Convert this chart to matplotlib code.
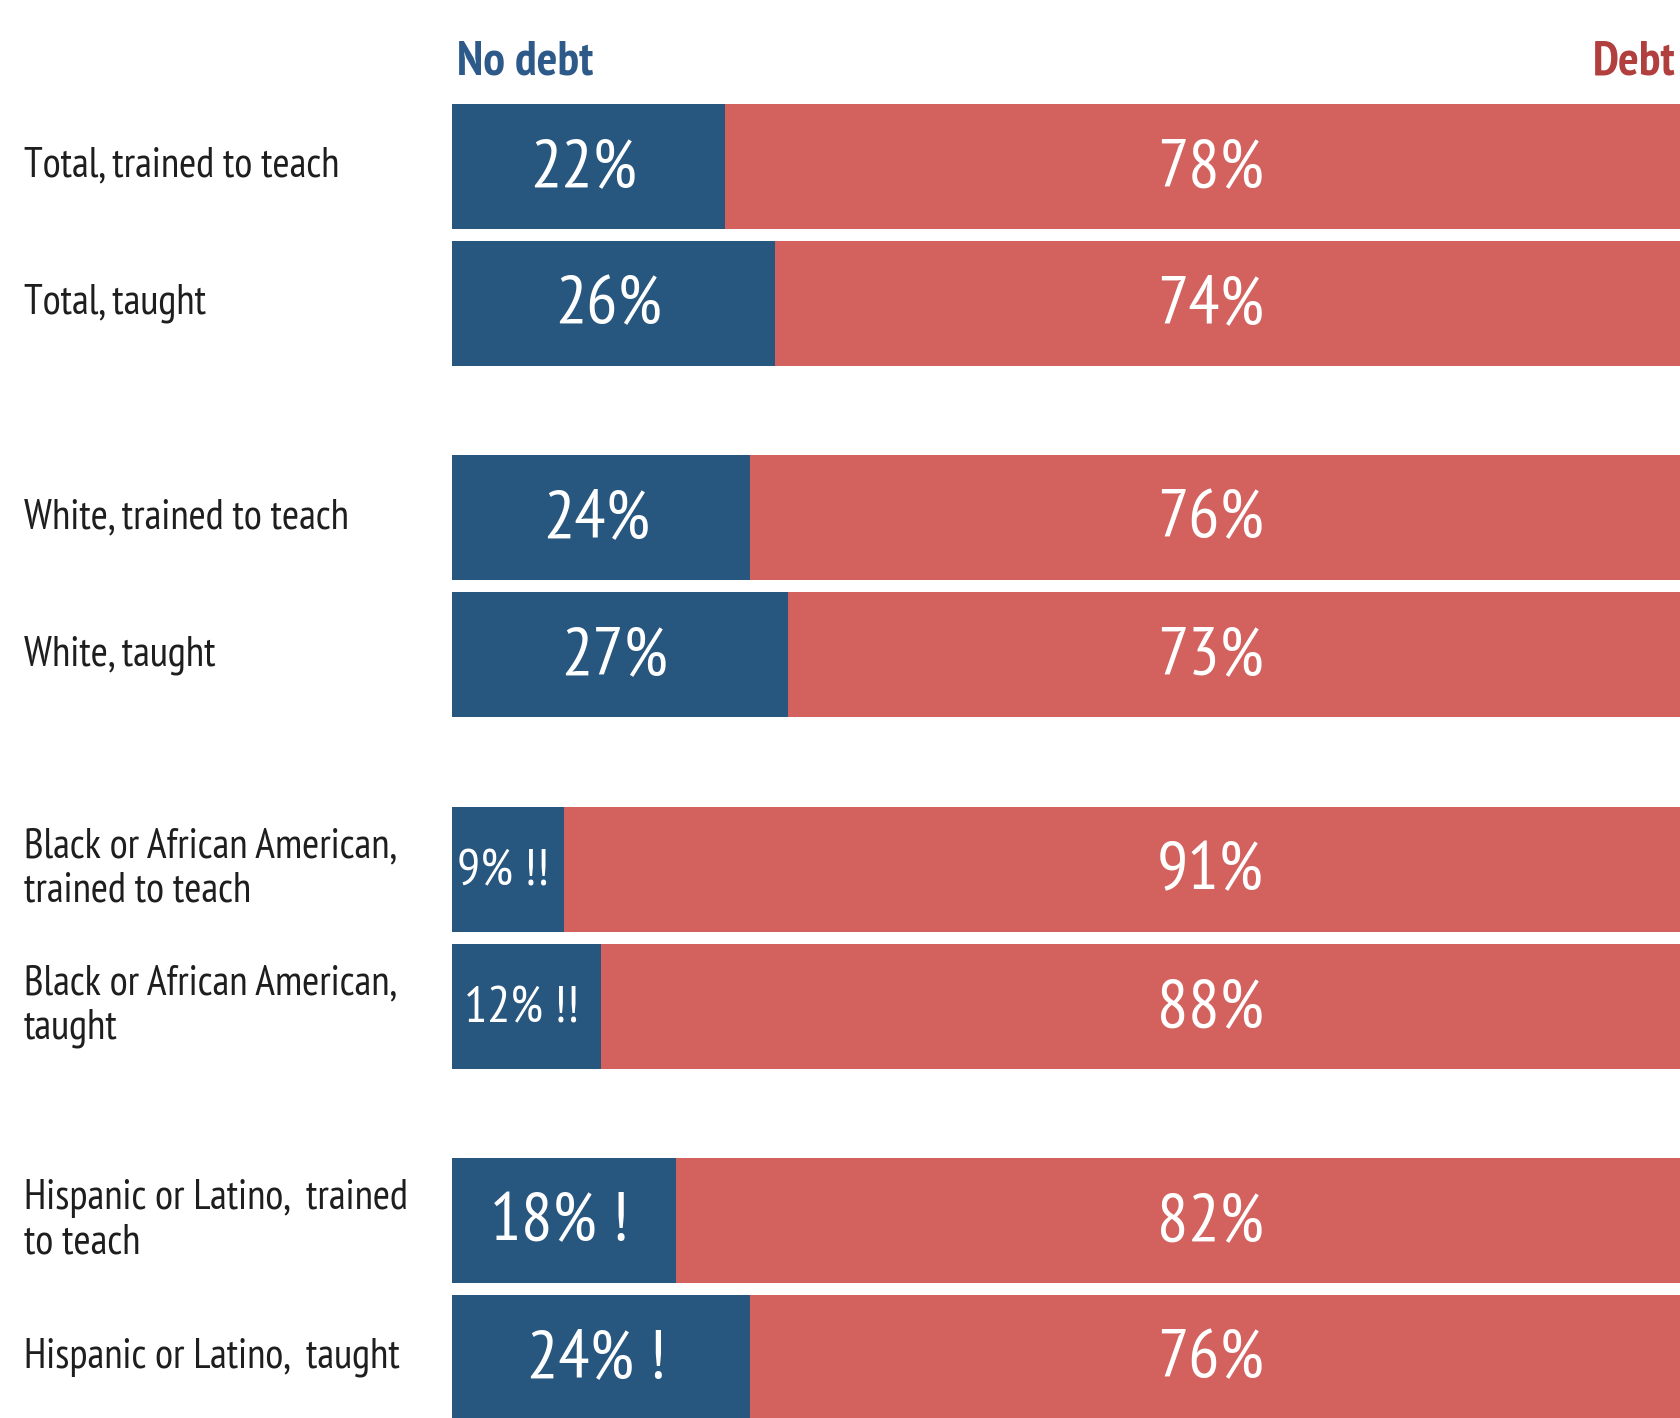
import matplotlib
matplotlib.use("Agg")
import matplotlib.pyplot as plt
import matplotlib.transforms as mtransforms

plt.rcParams['font.family'] = ['PT Sans Narrow', 'Roboto Condensed', 'DejaVu Sans']

labels = ["Total, trained to teach", "Total, taught",
          "White, trained to teach", "White, taught",
          "Black or African American,\ntrained to teach", "Black or African American,\ntaught",
          "Hispanic or Latino,  trained\nto teach", "Hispanic or Latino,  taught"]
no_debt = [22, 26, 24, 27, 9, 12, 18, 24]
debt = [78, 74, 76, 73, 91, 88, 82, 76]
no_debt_text = ["22%", "26%", "24%", "27%", "9% !!", "12% !!", "18% !", "24% !"]
debt_text = ["78%", "74%", "76%", "73%", "91%", "88%", "82%", "76%"]

blue = "#27567f"
red = "#d3625e"

W, H = 1680, 1418
fig = plt.figure(figsize=(W / 100, H / 100), dpi=100)
ax = fig.add_axes([452 / W, 0, 1243 / W, 1])

# two bars per group, wider gap between groups
group_gap = 2.565
pos = [(i // 2) * group_gap + (i % 2) for i in range(len(labels))]

ax.barh(pos, no_debt, height=0.912, color=blue, edgecolor="none")
ax.barh(pos, debt, left=no_debt, height=0.912, color=red, edgecolor="none")

ax.set_xlim(0, 100)
ax.set_ylim(10.35 - 1.215, -1.215)
ax.axis("off")

for i, y in enumerate(pos):
    small = "!!" in no_debt_text[i]
    ax.text(no_debt[i] / 2 - 0.4, y + 0.02, no_debt_text[i], ha="center", va="center",
            color="white", fontsize=37 if small else 50)
    ax.text(61.0, y + 0.02, debt_text[i], ha="center", va="center",
            color="white", fontsize=50)

trans = mtransforms.blended_transform_factory(fig.transFigure, ax.transData)
for i, y in enumerate(pos):
    ax.text(24 / W, y, labels[i], transform=trans, ha="left", va="center",
            color="#1e1e1e", fontsize=30, linespacing=1.18, clip_on=False)

ax.text(0.4, -0.76, "No debt", ha="left", va="center", color="#2e5a8a",
        fontsize=35, fontweight="bold", clip_on=False)
ax.text(91.8, -0.76, "Debt", ha="left", va="center", color="#b03f3e",
        fontsize=35, fontweight="bold", clip_on=False)

fig.savefig("out.png", dpi=100)
